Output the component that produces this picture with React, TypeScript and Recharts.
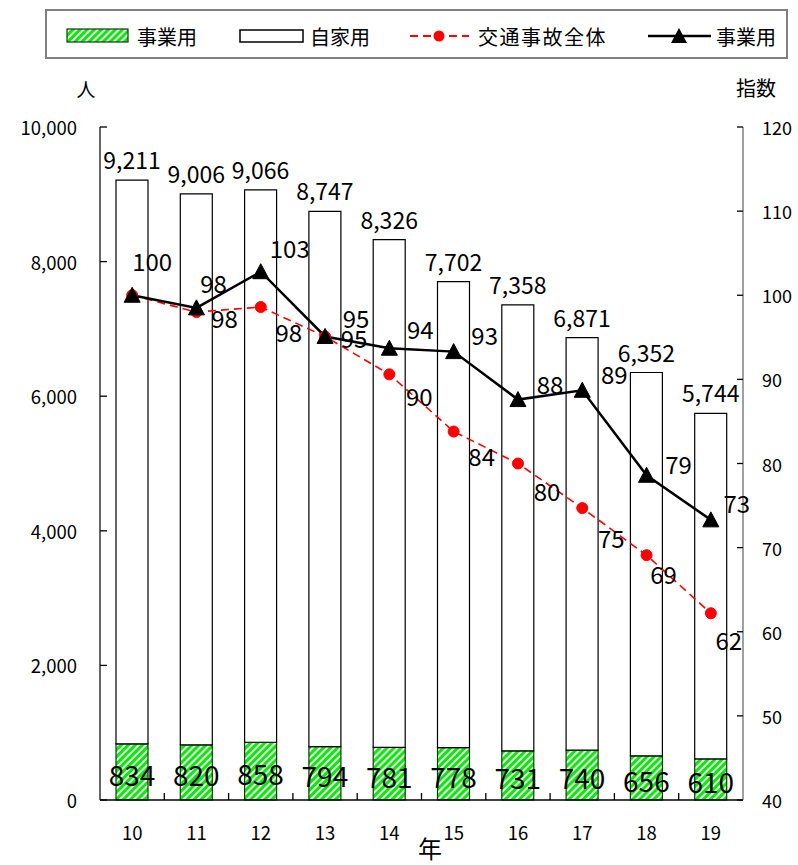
import React from 'react';
import { ComposedChart, Bar, Line, XAxis, YAxis, LabelList } from 'recharts';

// ---- data ----
const years = ['10', '11', '12', '13', '14', '15', '16', '17', '18', '19'];
const totalCasualties = [9211, 9006, 9066, 8747, 8326, 7702, 7358, 6871, 6352, 5744];
const commercialCasualties = [834, 820, 858, 794, 781, 778, 731, 740, 656, 610];
const overallIndex = [100, 98.0, 98.6, 95.1, 90.6, 83.8, 80.0, 74.7, 69.1, 62.2];
const overallIndexLabels = [null, 98, 98, 95, 90, 84, 80, 75, 69, 62];
const commercialIndex = [100, 98.5, 102.8, 95.1, 93.7, 93.3, 87.6, 88.7, 78.6, 73.3];
const commercialIndexLabels = [100, 98, 103, 95, 94, 93, 88, 89, 79, 73];
const leftTicks = [0, 2000, 4000, 6000, 8000, 10000];
const rightTicks = [40, 50, 60, 70, 80, 90, 100, 110, 120];

// ---- layout / style constants ----
const W = 798;
const H = 865;
const PLOT_LEFT = 100;
const PLOT_RIGHT = 743;
const PLOT_BOTTOM = 800;
const BAND = (PLOT_RIGHT - PLOT_LEFT) / years.length;
const FONT = "'Noto Sans CJK JP', 'Noto Sans', sans-serif";
const GREEN = '#0ee60e';

// label nudges (styling only) for line labels: [dx, dy]
const redLabelNudge = [[0, 0], [28, 5], [28, 24], [29, 1], [30, 21], [28, 24], [29, 27], [29, 29], [17, 18], [18, 26]];
const blackLabelNudge = [[20, -35], [17, -25], [29, -24], [31, -19], [31, -20], [31, -17], [32, -16], [32, -17], [32, -12], [26, -17]];

const data = years.map((y, i) => ({
  year: y,
  commercial: commercialCasualties[i],
  private: totalCasualties[i] - commercialCasualties[i],
  total: totalCasualties[i],
  overall: overallIndex[i],
  overallLabel: overallIndexLabels[i],
  comIdx: commercialIndex[i],
  comIdxLabel: commercialIndexLabels[i],
}));

const renderLeftTick = (props: any) => {
  const { y, payload, index } = props;
  return (
    <g key={`lt${index}`}>
      <line x1={PLOT_LEFT} x2={PLOT_LEFT + 7} y1={y} y2={y} stroke="#000" strokeWidth={1.3} />
      <text x={77} y={y} textAnchor="end" dominantBaseline="central" fontSize={18.5} fontFamily={FONT} fill="#000">
        {Number(payload.value).toLocaleString('en-US')}
      </text>
    </g>
  );
};

const renderRightTick = (props: any) => {
  const { y, payload, index } = props;
  return (
    <g key={`rt${index}`}>
      <line x1={PLOT_RIGHT - 6} x2={PLOT_RIGHT} y1={y} y2={y} stroke="#000" strokeWidth={1.3} />
      <text x={762} y={y} textAnchor="start" dominantBaseline="central" fontSize={18} fontFamily={FONT} fill="#000">
        {payload.value}
      </text>
    </g>
  );
};

const renderXTick = (props: any) => {
  const { x, payload, index } = props;
  return (
    <g key={`xt${index}`}>
      <text x={x} y={832} textAnchor="middle" dominantBaseline="central" fontSize={18.5} fontFamily={FONT} fill="#000">
        {payload.value}
      </text>
    </g>
  );
};

const BottomLabel = (props: any) => {
  const { x, y, width, height, value } = props;
  return (
    <text x={x + width / 2} y={y + height / 2 + 2} textAnchor="middle" dominantBaseline="central" fontSize={28} fontFamily={FONT} fill="#000">
      {value}
    </text>
  );
};

const TotalLabel = (props: any) => {
  const { x, y, width, value } = props;
  return (
    <text x={x + width / 2} y={y - 21} textAnchor="middle" dominantBaseline="central" fontSize={23} fontFamily={FONT} fill="#000">
      {Number(value).toLocaleString('en-US')}
    </text>
  );
};

const makeLineLabel = (nudge: number[][]) => (props: any) => {
  const { x, y, value, index } = props;
  if (value === null || value === undefined) return null;
  const n = nudge[index] || [28, 20];
  return (
    <text x={x + n[0]} y={y + n[1]} textAnchor="middle" dominantBaseline="central" fontSize={24} fontFamily={FONT} fill="#000">
      {value}
    </text>
  );
};

const Triangle = (props: any) => {
  const { cx, cy, index } = props;
  if (cx == null || cy == null) return <g key={`t${index}`} />;
  return (
    <polygon
      key={`t${index}`}
      points={`${cx},${cy - 8} ${cx - 8},${cy + 7} ${cx + 8},${cy + 7}`}
      fill="#000"
      stroke="#000"
    />
  );
};

export default function App() {
  return (
    <div style={{ position: 'absolute', left: 0, top: 0, width: W, height: H, background: '#fff', fontFamily: FONT }}>
      <svg width={0} height={0} style={{ position: 'absolute' }}>
        <defs>
          <pattern id="hatch" width={5} height={5} patternUnits="userSpaceOnUse" patternTransform="rotate(45)">
            <rect width={5} height={5} fill="#fff" />
            <line x1={2.5} y1={0} x2={2.5} y2={5} stroke={GREEN} strokeWidth={3.2} />
          </pattern>
        </defs>
      </svg>
      <ComposedChart
        width={W}
        height={H}
        data={data}
        margin={{ top: 127, right: 0, bottom: 0, left: 0 }}
        style={{ position: 'absolute', left: 0, top: 0, fontFamily: FONT }}
      >
        <XAxis
          dataKey="year"
          height={65}
          axisLine={{ stroke: '#000', strokeWidth: 1.5 }}
          tickLine={false}
          tick={renderXTick}
          interval={0}
        />
        <YAxis
          yAxisId="left"
          width={100}
          domain={[0, 10000]}
          ticks={leftTicks}
          axisLine={{ stroke: '#000', strokeWidth: 1.2 }}
          tickLine={false}
          tick={renderLeftTick}
          interval={0}
        />
        <YAxis
          yAxisId="right"
          orientation="right"
          width={55}
          domain={[40, 120]}
          ticks={rightTicks}
          axisLine={{ stroke: '#808080', strokeWidth: 1.5 }}
          tickLine={false}
          tick={renderRightTick}
          interval={0}
        />
        <Bar dataKey="commercial" stackId="a" yAxisId="left" barSize={32} fill="url(#hatch)" stroke="#0a3a0a" strokeWidth={1.2} isAnimationActive={false}>
          <LabelList dataKey="commercial" content={BottomLabel} />
        </Bar>
        <Bar dataKey="private" stackId="a" yAxisId="left" barSize={32} fill="#fff" stroke="#000" strokeWidth={1.2} isAnimationActive={false}>
          <LabelList dataKey="total" content={TotalLabel} />
        </Bar>
        <Line
          dataKey="overall"
          yAxisId="right"
          stroke="#ff0000"
          strokeWidth={1.6}
          strokeDasharray="8 5"
          dot={{ r: 5.5, fill: '#ff0000', stroke: '#ff0000', strokeWidth: 1, strokeDasharray: '' }}
          isAnimationActive={false}
        >
          <LabelList dataKey="overallLabel" content={makeLineLabel(redLabelNudge)} />
        </Line>
        <Line
          dataKey="comIdx"
          yAxisId="right"
          stroke="#000"
          strokeWidth={2.5}
          dot={Triangle}
          isAnimationActive={false}
        >
          <LabelList dataKey="comIdxLabel" content={makeLineLabel(blackLabelNudge)} />
        </Line>
      </ComposedChart>
      <svg width={W} height={H} style={{ position: 'absolute', left: 0, top: 0, pointerEvents: 'none' }}>
        {/* category boundary tick marks on the x axis (pointing inward) */}
        {years.slice(1).map((_, i) => {
          const bx = PLOT_LEFT + BAND * (i + 1);
          return <line key={`b${i}`} x1={bx} x2={bx} y1={PLOT_BOTTOM} y2={PLOT_BOTTOM - 7} stroke="#000" strokeWidth={1.3} />;
        })}
        {/* legend */}
        <rect x={46} y={10} width={741} height={48} fill="#fff" stroke="#808080" strokeWidth={2} />
        <rect x={67} y={29} width={61} height={13} fill="url(#hatch)" stroke="#0a3a0a" strokeWidth={1.2} />
        <text x={137} y={36} dominantBaseline="central" fontSize={20} fontFamily={FONT}>事業用</text>
        <rect x={240} y={30} width={63} height={12} fill="#fff" stroke="#000" strokeWidth={1.5} />
        <text x={310} y={36} dominantBaseline="central" fontSize={20} fontFamily={FONT}>自家用</text>
        <line x1={410} x2={469} y1={36} y2={36} stroke="#ff0000" strokeWidth={2} strokeDasharray="8 5" />
        <circle cx={439} cy={36} r={5.5} fill="#ff0000" />
        <text x={478} y={36} dominantBaseline="central" fontSize={20} fontFamily={FONT} letterSpacing={1.5}>交通事故全体</text>
        <line x1={648} x2={711} y1={36} y2={36} stroke="#000" strokeWidth={2.5} />
        <polygon points="679,28 671,43 687,43" fill="#000" />
        <text x={716} y={36} dominantBaseline="central" fontSize={20} fontFamily={FONT}>事業用</text>
        {/* axis titles */}
        <text x={86} y={88} textAnchor="middle" dominantBaseline="central" fontSize={19} fontFamily={FONT}>人</text>
        <text x={756} y={87} textAnchor="middle" dominantBaseline="central" fontSize={20} fontFamily={FONT}>指数</text>
        <text x={430} y={847} textAnchor="middle" dominantBaseline="central" fontSize={24} fontFamily={FONT}>年</text>
      </svg>
    </div>
  );
}
